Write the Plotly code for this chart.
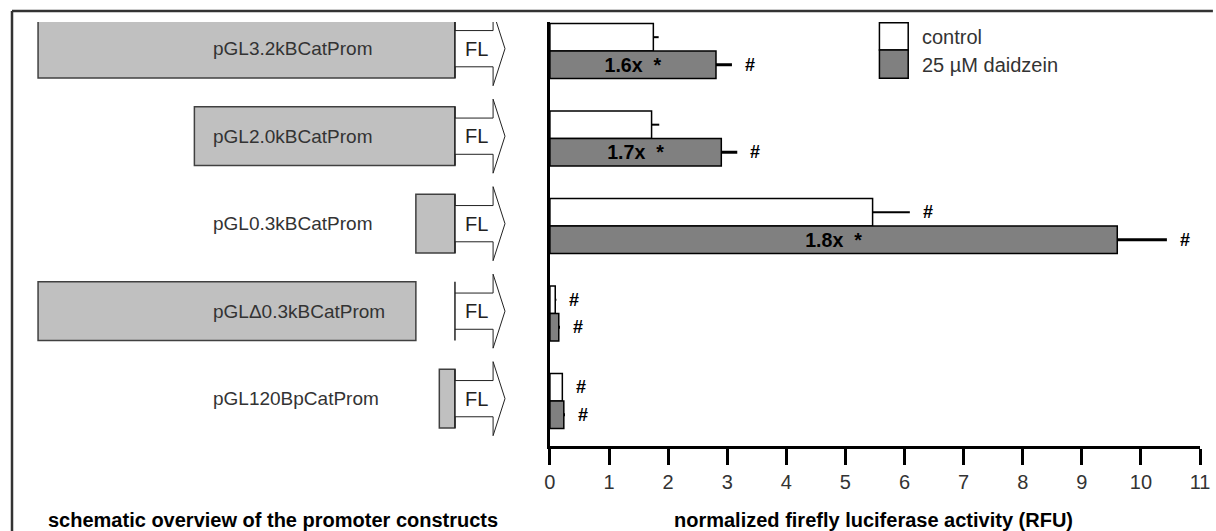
import plotly.graph_objects as go

# ---------------- data ----------------
constructs = ["pGL3.2kBCatProm", "pGL2.0kBCatProm", "pGL0.3kBCatProm",
              "pGL\u03940.3kBCatProm", "pGL120BpCatProm"]
promoter_start_kb = [3.2, 2.0, 0.3, 3.2, 0.12]   # distance of 5' end from FL start
promoter_end_kb = [0.0, 0.0, 0.0, 0.3, 0.0]      # distance of 3' end from FL start
control = [1.75, 1.72, 5.46, 0.09, 0.21]
control_err = [0.09, 0.13, 0.63, 0.02, 0.01]
daidzein = [2.81, 2.90, 9.60, 0.15, 0.235]
daidzein_err = [0.27, 0.27, 0.84, 0.02, 0.02]
fold_labels = ["1.6x  *", "1.7x  *", "1.8x  *", "", ""]
control_sig = ["", "", "#", "#", "#"]
daidzein_sig = ["#", "#", "#", "#", "#"]
series_names = ["control", "25 \u00b5M daidzein"]
x_ticks = list(range(0, 12))
x_title = "normalized firefly luciferase activity (RFU)"
schema_title = "schematic overview of the promoter constructs"

# ---------------- layout helpers ----------------
W, H = 1216, 531
L, R, T, B = 6, 13, 22, 85
PW, PH = W - L - R, H - T - B


def px(x):
    return (x - L) / PW


def py(y):
    return (H - B - y) / PH


FONT = "Liberation Sans, Arial, sans-serif"
WHITE = "#ffffff"
GRAY = "#808080"
BOXGRAY = "#c0c0c0"
BARGAP = 0.37

pos = list(range(len(constructs)))

fig = go.Figure()
fig.add_trace(go.Bar(
    y=pos, x=control, orientation="h", name=series_names[0],
    marker=dict(color=WHITE, line=dict(color="#000000", width=1.5)),
    error_x=dict(type="data", symmetric=False, array=control_err,
                 arrayminus=[0] * len(control), width=0, thickness=2, color="#000000"),
    showlegend=False,
))
fig.add_trace(go.Bar(
    y=pos, x=daidzein, orientation="h", name=series_names[1],
    marker=dict(color=GRAY, line=dict(color="#000000", width=1.5)),
    error_x=dict(type="data", symmetric=False, array=daidzein_err,
                 arrayminus=[0] * len(daidzein), width=0, thickness=3, color="#000000"),
    text=fold_labels, textposition="inside", insidetextanchor="middle",
    textangle=0,
    textfont=dict(family=FONT, size=20, color="#000000", weight="bold"),
    showlegend=False,
))

shapes = []
annotations = []

# significance marks
half = (1 - BARGAP) / 4
for i in pos:
    if control_sig[i]:
        annotations.append(dict(x=control[i] + control_err[i], y=i - half, xref="x", yref="y",
                                text="<b>%s</b>" % control_sig[i], showarrow=False,
                                xanchor="left", yanchor="middle", xshift=11,
                                font=dict(family=FONT, size=18, color="#000000")))
    if daidzein_sig[i]:
        annotations.append(dict(x=daidzein[i] + daidzein_err[i], y=i + half, xref="x", yref="y",
                                text="<b>%s</b>" % daidzein_sig[i], showarrow=False,
                                xanchor="left", yanchor="middle", xshift=11,
                                font=dict(family=FONT, size=18, color="#000000")))

# schematic (x2 in kb, negative = upstream of FL)
BOX_H = 0.335
BODY_H = 0.207
HEAD_H = 0.423
BODY_X = 0.2926
TIP_X = 0.384
for i in pos:
    shapes.append(dict(type="rect", xref="x2", yref="y2",
                       x0=-promoter_start_kb[i], x1=-promoter_end_kb[i],
                       y0=i - BOX_H, y1=i + BOX_H,
                       fillcolor=BOXGRAY, line=dict(color="#404040", width=1.5)))
    path = ("M 0,{a} L {bx},{a} L {bx},{b} L {tx},{c} L {bx},{d} L {bx},{e} L 0,{e}"
            .format(a=i - BODY_H, b=i - HEAD_H, c=i, d=i + HEAD_H, e=i + BODY_H,
                    bx=BODY_X, tx=TIP_X))
    shapes.append(dict(type="path", xref="x2", yref="y2", path=path,
                       fillcolor=WHITE, line=dict(color="#222222", width=1)))
    shapes.append(dict(type="line", xref="x2", yref="y2", x0=0, x1=0,
                       y0=i - BOX_H, y1=i + BOX_H, line=dict(color="#222222", width=1.5)))
    annotations.append(dict(x=0.165, y=i, xref="x2", yref="y2", text="FL", showarrow=False,
                            xanchor="center", yanchor="middle",
                            font=dict(family=FONT, size=20, color="#222222")))
    annotations.append(dict(x=-1.870, y=i, xref="x2", yref="y2", text=constructs[i],
                            showarrow=False, xanchor="left", yanchor="middle",
                            font=dict(family=FONT, size=19, color="#333333")))

# legend (drawn manually to match big swatches)
shapes.append(dict(type="rect", xref="paper", yref="paper", x0=px(880), x1=px(909),
                   y0=py(50), y1=py(22.7), fillcolor=WHITE, line=dict(color="#000000", width=1.5)))
shapes.append(dict(type="rect", xref="paper", yref="paper", x0=px(880), x1=px(909),
                   y0=py(78.3), y1=py(50), fillcolor=GRAY, line=dict(color="#000000", width=1.5)))
annotations.append(dict(x=px(921), y=py(36.7), xref="paper", yref="paper", text=series_names[0],
                        showarrow=False, xanchor="left", yanchor="middle",
                        font=dict(family=FONT, size=20, color="#333333")))
annotations.append(dict(x=px(921), y=py(65), xref="paper", yref="paper", text=series_names[1],
                        showarrow=False, xanchor="left", yanchor="middle",
                        font=dict(family=FONT, size=20, color="#333333")))

# titles
annotations.append(dict(x=px(874), y=py(520), xref="paper", yref="paper",
                        text="<b>%s</b>" % x_title, showarrow=False,
                        xanchor="center", yanchor="middle",
                        font=dict(family=FONT, size=20, color="#000000")))
annotations.append(dict(x=px(269), y=py(520), xref="paper", yref="paper",
                        text="<b>%s</b>" % schema_title, showarrow=False,
                        xanchor="center", yanchor="middle",
                        font=dict(family=FONT, size=20, color="#000000")))

# outer frame (top + left)
shapes.append(dict(type="line", xref="paper", yref="paper", x0=px(6), x1=px(1216),
                   y0=py(11), y1=py(11), line=dict(color="#333333", width=2.5)))
shapes.append(dict(type="line", xref="paper", yref="paper", x0=px(6), x1=px(6),
                   y0=py(11), y1=py(531), line=dict(color="#333333", width=2.5)))

fig.update_layout(
    width=W, height=H,
    margin=dict(l=L, r=R, t=T, b=B, pad=0),
    paper_bgcolor="white", plot_bgcolor="rgba(0,0,0,0)",
    barmode="group", bargap=BARGAP, bargroupgap=0,
    font=dict(family=FONT, color="#333333"),
    xaxis=dict(domain=[px(548), 1], range=[0, 11], tickvals=x_ticks,
               ticktext=[str(t) for t in x_ticks],
               showline=True, linewidth=2.5, linecolor="#000000",
               ticks="outside", ticklen=16, tickwidth=3, tickcolor="#000000",
               tickfont=dict(family=FONT, size=20, color="#333333"),
               showgrid=False, zeroline=False, anchor="y"),
    yaxis=dict(range=[4.515, -0.331], showline=True, linewidth=3, linecolor="#000000",
               showticklabels=False, ticks="", showgrid=False, zeroline=False,
               anchor="x"),
    xaxis2=dict(domain=[0, px(540)], range=[-3.400, 0.668], visible=False, anchor="y2"),
    yaxis2=dict(range=[4.541, -0.305], overlaying="y", visible=False, anchor="x2"),
    shapes=shapes,
    annotations=annotations,
)

fig.write_html(
    "out.html",
    config={"displayModeBar": False},
    post_script="document.body.style.margin='0';document.body.style.overflow='hidden';",
)
